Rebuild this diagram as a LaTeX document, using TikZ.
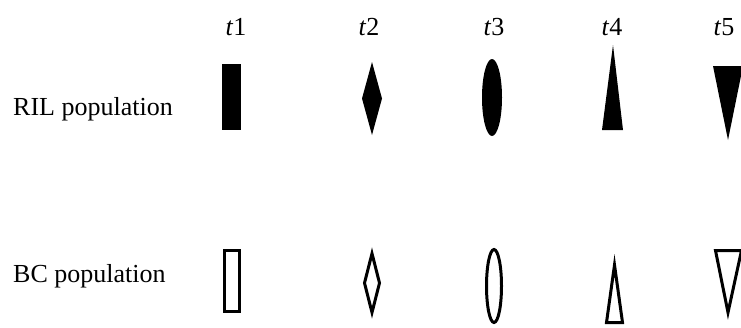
\documentclass[tikz,border=0pt]{standalone}
\usepackage{fontspec}
\setmainfont{Liberation Serif}
\begin{document}
\begin{tikzpicture}[x=1pt,y=-1pt,
  lbl/.style={inner sep=0pt,font=\fontsize{26}{30}\selectfont},
  solidshape/.style={fill=black,draw=none},
  hollowshape/.style={draw=black,line width=3pt,fill=none,line join=miter}]
\useasboundingbox (0,0) rectangle (741,327);
% labels
\node[lbl,anchor=base west] (ril) at (13,115) {RIL population};
\node[lbl,anchor=base west] (bc) at (13,282) {BC population};
\node[lbl,anchor=base] (t1) at (236,35) {\textit{t}1};
\node[lbl,anchor=base] (t2) at (369,35) {\textit{t}2};
\node[lbl,anchor=base] (t3) at (494,35) {\textit{t}3};
\node[lbl,anchor=base] (t4) at (612,35) {\textit{t}4};
\node[lbl,anchor=base] (t5) at (724,35) {\textit{t}5};
% RIL row (filled)
\fill[solidshape] (222,64) rectangle (241,130);
\fill[solidshape] (372,62) -- (382,98.5) -- (372,135) -- (362,98.5) -- cycle;
\fill[solidshape] (492,97.5) ellipse [x radius=10, y radius=38.5];
\fill[solidshape] (613,45) -- (623,130) -- (602,130) -- cycle;
\fill[solidshape] (713,66) -- (743,66) -- (728,140) -- cycle;
% BC row (outlined)
\draw[hollowshape] (224.3,250.5) rectangle (239.5,311.5);
\draw[hollowshape] (372,253.5) -- (379.5,283) -- (372,312.5) -- (364.5,283) -- cycle;
\draw[hollowshape] (494,286) ellipse [x radius=7.5, y radius=36.5];
\draw[hollowshape] (614.5,265) -- (622.5,322.5) -- (606.5,322.5) -- cycle;
\draw[hollowshape] (715.5,250.5) -- (741.5,250.5) -- (728,312.5) -- cycle;
\end{tikzpicture}
\end{document}
